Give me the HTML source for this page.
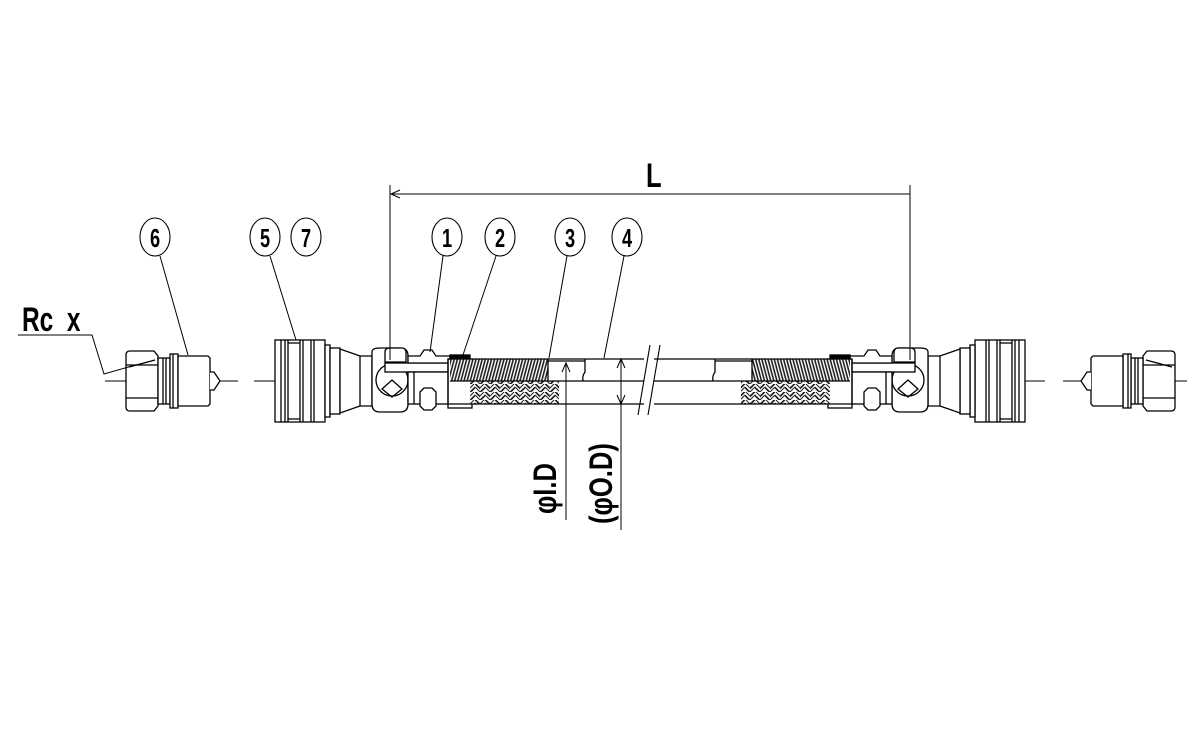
<!DOCTYPE html>
<html><head><meta charset="utf-8"><style>
html,body{margin:0;padding:0;background:#fff;width:1200px;height:750px;overflow:hidden}
svg{display:block}
text{font-family:"Liberation Sans",sans-serif;fill:#000;font-weight:bold}
</style></head><body>
<svg width="1200" height="750" viewBox="0 0 1200 750" xmlns="http://www.w3.org/2000/svg">
<defs>
<pattern id="h1" width="3" height="4" patternUnits="userSpaceOnUse" patternTransform="rotate(15)">
<rect width="3" height="4" fill="#fff"/><rect width="1.6" height="4" fill="#222"/></pattern>
<pattern id="h2" width="10" height="8" patternUnits="userSpaceOnUse">
<rect width="10" height="8" fill="#fff"/>
<path d="M0 4 L4 0 M0 8 L5 3 M1 8 L5 4 M5 0 L10 5 M5 3 L10 8 M6 0 L10 4" stroke="#222" stroke-width="1"/></pattern>
<g id="half" fill="#fff" stroke="#000" stroke-width="1.3">
 <rect x="275" y="340" width="50" height="82"/>
 <line x1="281" y1="340" x2="281" y2="422"/><line x1="285" y1="340" x2="285" y2="422"/>
 <line x1="288" y1="340" x2="288" y2="422"/>
 <line x1="300" y1="340" x2="300" y2="422"/><line x1="303" y1="340" x2="303" y2="422"/>
 <line x1="311" y1="340" x2="311" y2="422"/><line x1="314" y1="340" x2="314" y2="422"/>
 <line x1="288" y1="343" x2="300" y2="343"/><line x1="288" y1="419" x2="300" y2="419"/>
 <rect x="325" y="345" width="5" height="72"/>
 <rect x="330" y="348" width="10" height="66"/>
 <path d="M340 349 L360 356 L372 356 L372 406 L360 406 L340 413 Z"/>
 <line x1="360" y1="356" x2="360" y2="406"/>
 <path d="M372 352 Q372 348 380 348 L400 348 Q408 348 408 356 L408 404 Q408 412 400 412 L380 412 Q372 412 372 404 Z"/>
 <circle cx="392" cy="380" r="16" fill="none"/>
 <path d="M382 389 L392 380 L402 389 L392 397 Z" fill="none"/>
 <path d="M385 362 L385 352 Q385 348 390 348 L402 348 Q406 348 406 353 L406 362 Z"/>
 <rect x="385" y="363" width="65" height="9"/>
 <path d="M420 356 L424 350 L432 350 L436 356 L450 356 L450 363 L408 363 L408 356 Z"/>
 <rect x="408" y="372" width="42" height="32"/>
 <path d="M420 392 L424 388 L432 388 L436 392 L436 406 L432 410 L424 410 L420 406 Z"/>
 <line x1="414" y1="372" x2="414" y2="404"/>
 <rect x="450" y="355" width="20" height="5" fill="#000"/>
 <rect x="448" y="359" width="24" height="49"/>
 <rect x="450" y="359" width="98" height="22" fill="url(#h1)" stroke="none"/>
 <rect x="470" y="381" width="89" height="23" fill="url(#h2)" stroke="none"/>
 <line x1="448" y1="359" x2="650" y2="359"/>
 <line x1="450" y1="381" x2="650" y2="381"/>
 <line x1="448" y1="404" x2="650" y2="404"/>
 <line x1="448" y1="359" x2="448" y2="404"/>
 <path d="M548 359 L548 381" fill="none"/>
 <line x1="548" y1="361" x2="585" y2="361"/>
</g>
<g id="plug" fill="#fff" stroke="#000" stroke-width="1.3">
 <path d="M126 355 Q126 351 130 351 L154 351 L158 356 L158 406 L154 411 L130 411 Q126 411 126 407 Z"/>
 <line x1="126" y1="365" x2="158" y2="365"/><line x1="126" y1="398" x2="158" y2="398"/>
 <line x1="129" y1="367" x2="155" y2="360"/>
 <rect x="158" y="358" width="12" height="46"/>
 <line x1="163" y1="358" x2="163" y2="404"/><line x1="166" y1="358" x2="166" y2="404"/>
 <rect x="170" y="354" width="8" height="54"/><line x1="173" y1="354" x2="173" y2="408"/>
 <path d="M178 356 L208 356 L210 358 L210 404 L208 406 L178 406 Z"/>
 <path d="M210 372 L214 372 L220 381 L214 390 L210 390"/>
</g>
</defs>

<g stroke="#000" stroke-width="1">
<line x1="105" y1="381" x2="238" y2="381"/>
<line x1="254" y1="381" x2="1045" y2="381"/>
<line x1="1063" y1="381" x2="1187" y2="381"/>
</g>

<use href="#plug"/>
<use href="#plug" transform="translate(1301,0) scale(-1,1)"/>
<use href="#half"/>
<use href="#half" transform="translate(1300,0) scale(-1,1)"/>

<g fill="none" stroke="#000" stroke-width="1.3">
<path d="M585 359 L585 372 Q582 376 583 381"/>
<path d="M715 359 L715 372 Q712 376 713 381"/>
</g>
<rect x="644" y="358" width="10" height="48" fill="#fff"/>
<g fill="none" stroke="#000" stroke-width="1.1">
<line x1="650" y1="345" x2="638" y2="415"/>
<line x1="660" y1="345" x2="648" y2="415"/>
</g>

<g stroke="#000" stroke-width="1" fill="none">
<line x1="390" y1="185" x2="390" y2="360"/>
<line x1="910" y1="185" x2="910" y2="360"/>
<line x1="390" y1="194" x2="910" y2="194"/>
<path d="M400 190 L391 194 L400 198"/>
</g>
<text font-size="34" transform="translate(646,187) scale(0.75,1)">L</text>

<g fill="#fff" stroke="#000" stroke-width="1.1">
<ellipse cx="155" cy="237" rx="15" ry="19"/>
<ellipse cx="265" cy="237" rx="15" ry="19"/>
<ellipse cx="306" cy="237" rx="15" ry="19"/>
<ellipse cx="447" cy="237" rx="15" ry="19"/>
<ellipse cx="500" cy="237" rx="15" ry="19"/>
<ellipse cx="570" cy="237" rx="15" ry="19"/>
<ellipse cx="627" cy="237" rx="15" ry="19"/>
</g>
<g font-size="26" text-anchor="middle">
<text transform="translate(155,247) scale(0.7,1)">6</text>
<text transform="translate(265,247) scale(0.7,1)">5</text>
<text transform="translate(306,247) scale(0.7,1)">7</text>
<text transform="translate(447,247) scale(0.7,1)">1</text>
<text transform="translate(500,247) scale(0.7,1)">2</text>
<text transform="translate(570,247) scale(0.7,1)">3</text>
<text transform="translate(627,247) scale(0.7,1)">4</text>
</g>
<g stroke="#000" stroke-width="1" fill="none">
<line x1="160" y1="256" x2="188" y2="355"/>
<line x1="270" y1="256" x2="296" y2="340"/>
<line x1="443" y1="256" x2="430" y2="352"/>
<line x1="496" y1="256" x2="463" y2="355"/>
<line x1="567" y1="256" x2="549" y2="358"/>
<line x1="624" y1="256" x2="604" y2="358"/>
<polyline points="18,335 92,335 104,374 132,366"/>
<line x1="566" y1="363" x2="566" y2="520"/>
<path d="M562 372 L566 363 L570 372"/>
<line x1="621" y1="359" x2="621" y2="530"/>
<path d="M617 368 L621 359 L625 368 M617 395 L621 404 L625 395"/>
</g>
<text font-size="34" transform="translate(22,331) scale(0.72,1)">Rc&#160;&#160;x</text>
<text transform="translate(556,514) rotate(-90) scale(0.8,1)" font-size="32">φI.D</text>
<text transform="translate(612,524) rotate(-90) scale(0.8,1)" font-size="32">(φO.D)</text>
</svg>
</body></html>
